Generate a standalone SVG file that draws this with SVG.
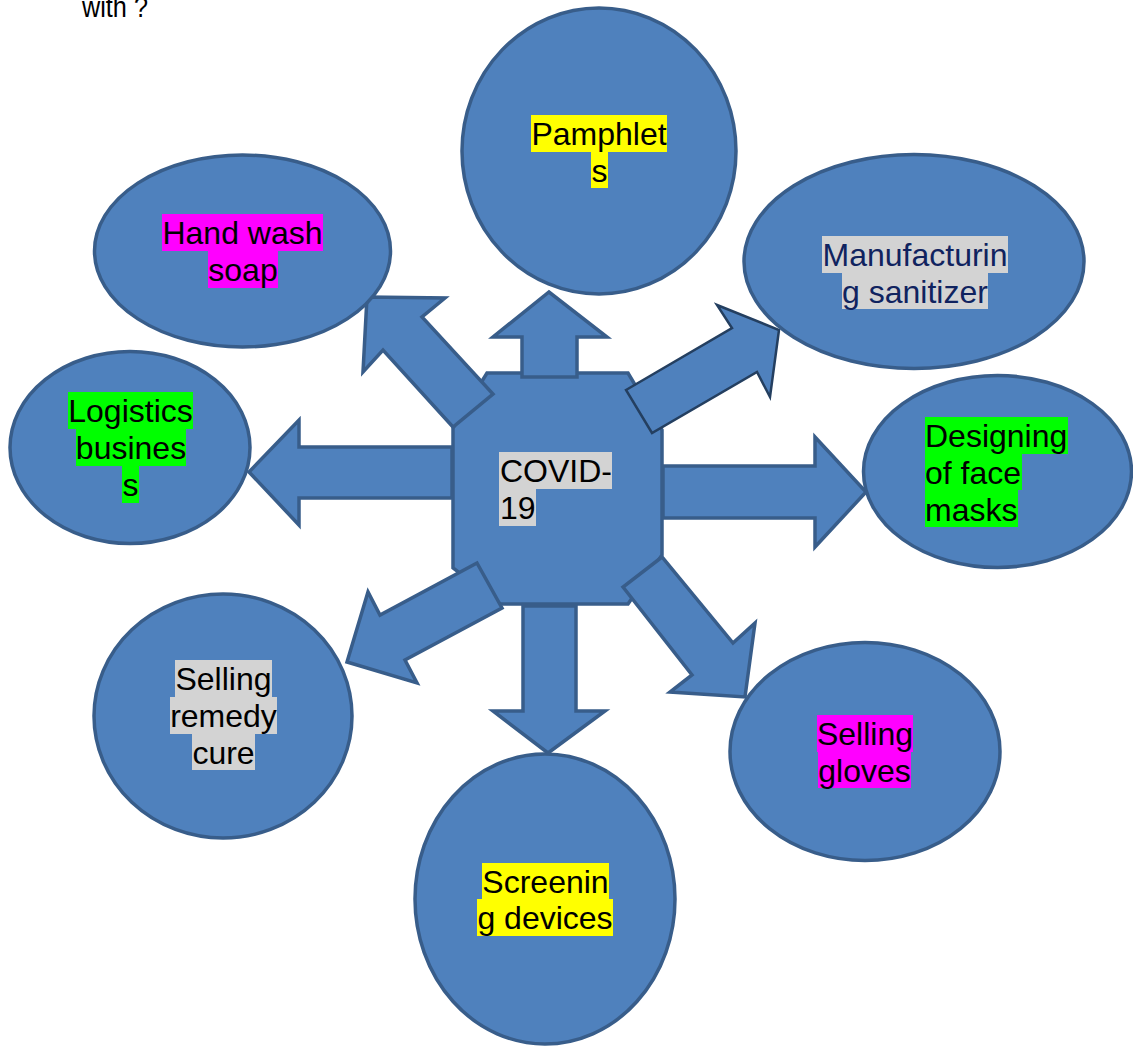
<svg xmlns="http://www.w3.org/2000/svg" width="1133" height="1046" viewBox="0 0 1133 1046">
  <style>
    .shape { fill: #4f81bd; stroke: #385d8a; stroke-width: 3.5; stroke-linejoin: miter; }
    .dark { stroke: #243f60; stroke-width: 2.5; }
    .lbl { font-family: "Liberation Sans", Arial, sans-serif; font-size: 32px; fill: #000000; }
    .mid { text-anchor: middle; }
    .yel { fill: #ffff00; }
    .mag { fill: #ff00ff; }
    .grn { fill: #00ff00; }
    .gry { fill: #d3d3d3; }
  </style>
  <rect x="0" y="0" width="1133" height="1046" fill="#ffffff"/>
  <text x="82" y="17" font-family="Liberation Sans, Arial, sans-serif" font-size="29" textLength="66" lengthAdjust="spacingAndGlyphs" fill="#000000">with ?</text>

  <g id="node-covid">
    <polygon class="shape" points="487,373 628,373 662,430 662,555 628,604 500,604 453,568 453,428"/>
  </g>

  <g id="connectors">
    <polygon class="shape" points="522,377 522,337 493,337 549,292 607,337 577,337 577,377"/>
    <polygon class="shape" points="453,427 383,350 363,372 367,297 445,298 422,317 493,394"/>
    <polygon class="shape dark" points="626,390 732,328 717,305 779,330 770,397 757,372 652,433"/>
    <polygon class="shape" points="452,447 299,447 299,420 249,472 299,525 299,498 452,498"/>
    <polygon class="shape" points="663,466 815,466 815,437 866,492 815,547 815,518 663,518"/>
    <polygon class="shape" points="477,563 380,615 368,592 347,662 417,683 405,660 502,608"/>
    <polygon class="shape" points="523,606 523,711 493,711 548,753 605,711 576,711 576,606"/>
    <polygon class="shape" points="623,587 692,675 670,692 745,697 755,623 733,643 662,557"/>
  </g>

  <g id="covid-label">
    <rect class="gry" x="499" y="452" width="113" height="37"/>
    <rect class="gry" x="499" y="489" width="37" height="37"/>
    <text class="lbl" x="500" y="481.5">COVID-</text>
    <text class="lbl" x="500" y="518.5">19</text>
  </g>

  <g id="node-pamphlets">
    <ellipse class="shape" cx="599" cy="151" rx="137" ry="143"/>
    <rect class="yel" x="531" y="115" width="136" height="37"/>
    <rect class="yel" x="591" y="152" width="17" height="36"/>
    <text class="lbl mid" x="599" y="144.5">Pamphlet</text>
    <text class="lbl mid" x="599.5" y="181.5">s</text>
  </g>

  <g id="node-handwash">
    <ellipse class="shape" cx="242.5" cy="251" rx="148" ry="96"/>
    <rect class="mag" x="162" y="214" width="161" height="37"/>
    <rect class="mag" x="208" y="251" width="70" height="37"/>
    <text class="lbl mid" x="242.5" y="243.5">Hand wash</text>
    <text class="lbl mid" x="243" y="280.5">soap</text>
  </g>

  <g id="node-manufacturing">
    <ellipse class="shape" cx="914" cy="261.5" rx="170" ry="107"/>
    <rect class="gry" x="822" y="236" width="186" height="37"/>
    <rect class="gry" x="842" y="273" width="146" height="36"/>
    <text class="lbl mid" x="915" y="265.5" style="fill:#10235f">Manufacturin</text>
    <text class="lbl mid" x="915" y="302.5" style="fill:#10235f">g sanitizer</text>
  </g>

  <g id="node-logistics">
    <ellipse class="shape" cx="130" cy="447.5" rx="120" ry="96"/>
    <rect class="grn" x="68" y="392" width="125" height="37"/>
    <rect class="grn" x="76" y="429" width="110" height="37"/>
    <rect class="grn" x="122" y="466" width="17" height="37"/>
    <text class="lbl mid" x="130.5" y="421.5">Logistics</text>
    <text class="lbl mid" x="131" y="458.5">busines</text>
    <text class="lbl mid" x="130.5" y="495.5">s</text>
  </g>

  <g id="node-facemasks">
    <ellipse class="shape" cx="997.5" cy="471.5" rx="134" ry="96"/>
    <rect class="grn" x="925" y="417" width="143" height="37"/>
    <rect class="grn" x="925" y="454" width="97" height="36"/>
    <rect class="grn" x="925" y="490" width="93" height="37"/>
    <text class="lbl" x="925" y="446.5">Designing</text>
    <text class="lbl" x="925" y="483.5">of face</text>
    <text class="lbl" x="925" y="520.5">masks</text>
  </g>

  <g id="node-remedy">
    <ellipse class="shape" cx="223" cy="716" rx="129" ry="122"/>
    <rect class="gry" x="175" y="660" width="97" height="37"/>
    <rect class="gry" x="170" y="697" width="107" height="37"/>
    <rect class="gry" x="192" y="734" width="63" height="36"/>
    <text class="lbl mid" x="223.5" y="689.5">Selling</text>
    <text class="lbl mid" x="223.5" y="726.5">remedy</text>
    <text class="lbl mid" x="223.5" y="763.5">cure</text>
  </g>

  <g id="node-gloves">
    <ellipse class="shape" cx="865" cy="751.5" rx="135" ry="109"/>
    <rect class="mag" x="817" y="715" width="96" height="37"/>
    <rect class="mag" x="818" y="752" width="93" height="36"/>
    <text class="lbl mid" x="865" y="744.5">Selling</text>
    <text class="lbl mid" x="864.5" y="781.5">gloves</text>
  </g>

  <g id="node-screening">
    <ellipse class="shape" cx="545" cy="899" rx="130" ry="145"/>
    <rect class="yel" x="482" y="863" width="127" height="36"/>
    <rect class="yel" x="477" y="899" width="136" height="37"/>
    <text class="lbl mid" x="545.5" y="892.5">Screenin</text>
    <text class="lbl mid" x="545" y="928.5">g devices</text>
  </g>
</svg>
